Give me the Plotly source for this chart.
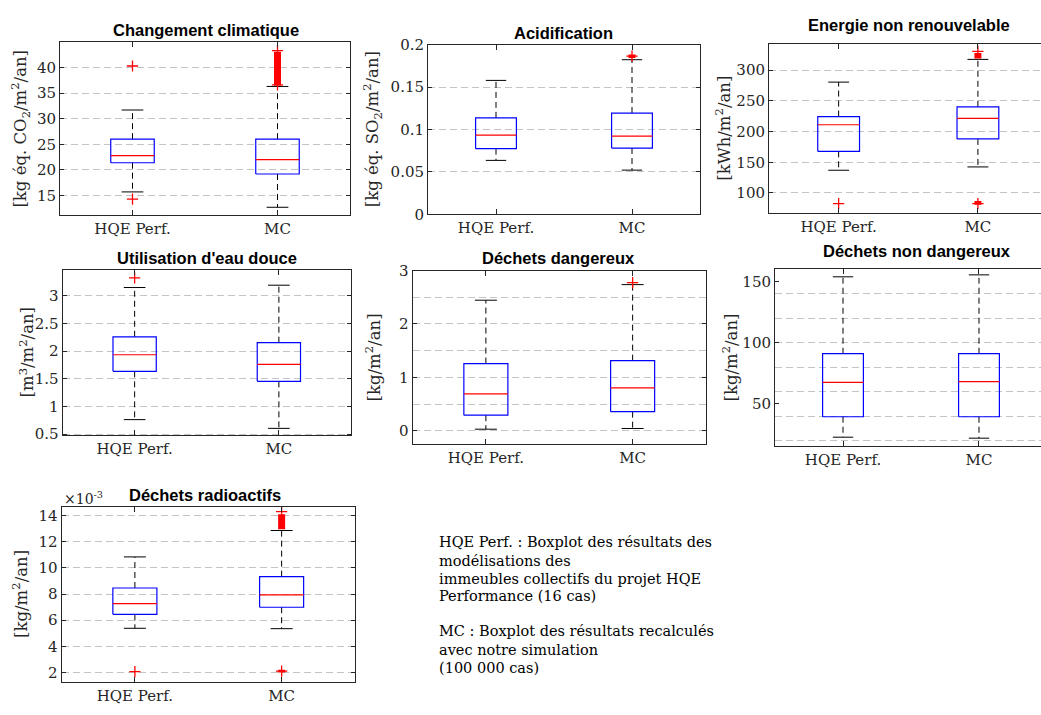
import plotly.graph_objects as go

# ---------------- data ----------------
titles = ["Changement climatique", "Acidification", "Energie non renouvelable",
          "Utilisation d'eau douce", "Déchets dangereux", "Déchets non dangereux",
          "Déchets radioactifs"]
ylabels = ["[kg éq. CO<sub>2</sub>/m<sup>2</sup>/an]",
           "[kg éq. SO<sub>2</sub>/m<sup>2</sup>/an]",
           "[kWh/m<sup>2</sup>/an]",
           "[m<sup>3</sup>/m<sup>2</sup>/an]",
           "[kg/m<sup>2</sup>/an]",
           "[kg/m<sup>2</sup>/an]",
           "[kg/m<sup>2</sup>/an]"]
categories = ["HQE Perf.", "MC"]

# box statistics per indicator (radioactifs expressed in 1e-3 kg)
hqe_low = [15.7, 0.0637, 137.0, 0.763, 0.03, 22.8, 5.38]
hqe_q1 = [21.4, 0.0775, 167.8, 1.634, 0.292, 39.5, 6.45]
hqe_med = [22.8, 0.0935, 211.1, 1.933, 0.693, 67.6, 7.27]
hqe_q3 = [26.0, 0.1138, 224.4, 2.257, 1.259, 91.0, 8.46]
hqe_high = [31.7, 0.158, 280.5, 3.146, 2.445, 153.8, 10.84]

mc_low = [12.7, 0.0522, 142.4, 0.605, 0.043, 22.0, 5.35]
mc_q1 = [19.2, 0.0782, 188.0, 1.453, 0.359, 39.5, 6.99]
mc_med = [22.0, 0.0924, 221.3, 1.758, 0.803, 68.2, 7.94]
mc_q3 = [26.0, 0.1195, 240.3, 2.151, 1.314, 91.0, 9.33]
mc_high = [36.3, 0.1824, 317.5, 3.188, 2.737, 155.4, 12.86]

hqe_outliers = [[40.3, 14.3], [], [82.5], [3.32], [], [], [2.07]]
mc_outliers = [[43.3, 36.6], [0.1866], [330.5, 82.5], [], [2.774], [], [14.3, 2.1]]
# ranges densely covered by MC outliers (100 000 cases)
mc_outlier_bands = [[(36.5, 43.1)], [(0.1845, 0.1885)], [(319.0, 328.0), (81.0, 87.0)],
                    [], [], [], [(12.95, 14.1), (2.0, 2.2)]]

y_ranges = [[11.25, 44.9], [-1e-7, 0.2000001], [67.8, 342.4], [0.48, 3.47],
            [-0.243, 3.0005], [15.6, 160.2], [1.30, 14.67]]
y_dticks = [5, 0.05, 50, 0.5, 1, 50, 2]
y_minor = [None, None, None, None, 0.5, 20, None]

note_lines = ["HQE Perf. : Boxplot des résultats des", "modélisations des",
              "immeubles collectifs du projet HQE", "Performance (16 cas)",
              "MC : Boxplot des résultats recalculés", "avec notre simulation",
              "(100 000 cas)"]

# ---------------- layout geometry (pixels) ----------------
W, H = 1041, 715
axes_px = [(60, 350, 34.3, 211), (428, 700, 36.7, 210.7), (769, 1041, 36, 209),
           (62.5, 351, 267.3, 437.3), (412.5, 706, 268.3, 446), (775, 1041, 266.7, 448.3),
           (61.5, 355, 510.7, 690)]
x_ranges = [[0.5, 2.5], [0.5, 2.5], [0.5, 2.453], [0.5, 2.5], [0.5, 2.5], [0.5, 2.456], [0.5, 2.5]]
clipped_right = [False, False, True, False, False, True, False]
title_px = [(205.8, 21.7), (563.3, 24.3), (908.5, 16.7), (207.2, 255), (558.8, 255.7),
            (917.2, 248.3), (204.8, 498.3)]
ylabel_x = [20, 371.7, 723.3, 27, 373.3, 730, 20.7]
note_y = [546.7, 566.7, 585, 602.3, 638.3, 657.7, 675.7]

SERIF = "DejaVu Serif"
SANS = "Liberation Sans, Arial"
AX = "#262626"
GRID = "#c4c4c4"
BW = 0.15   # half box width
CW = 0.075  # half cap width

fig = go.Figure()
layout = dict(width=W, height=H, margin=dict(l=0, r=0, t=0, b=0), autosize=False,
              paper_bgcolor="white", plot_bgcolor="white", showlegend=False,
              annotations=[])


def px2x(p):
    return p / W


def px2y(p):
    return 1 - p / H


for i in range(7):
    n = i + 1
    sfx = "" if n == 1 else str(n)
    xa, ya = "x" + sfx, "y" + sfx
    stats = [
        (1, hqe_low[i], hqe_q1[i], hqe_med[i], hqe_q3[i], hqe_high[i], hqe_outliers[i], []),
        (2, mc_low[i], mc_q1[i], mc_med[i], mc_q3[i], mc_high[i], mc_outliers[i], mc_outlier_bands[i]),
    ]
    for c, lo, q1, med, q3, hi, outs, bands in stats:
        # whiskers (dashed)
        fig.add_trace(go.Scatter(x=[c, c, None, c, c], y=[q3, hi, None, q1, lo], mode="lines",
                                 line=dict(color="black", width=1, dash="6px,4px"),
                                 xaxis=xa, yaxis=ya, hoverinfo="skip"))
        # caps
        fig.add_trace(go.Scatter(x=[c - CW, c + CW, None, c - CW, c + CW], y=[hi, hi, None, lo, lo],
                                 mode="lines", line=dict(color="black", width=1),
                                 xaxis=xa, yaxis=ya, hoverinfo="skip"))
        # box
        fig.add_trace(go.Scatter(x=[c - BW, c + BW, c + BW, c - BW, c - BW], y=[q1, q1, q3, q3, q1],
                                 mode="lines", line=dict(color="#0000ff", width=1.2),
                                 xaxis=xa, yaxis=ya, hoverinfo="skip"))
        # median
        fig.add_trace(go.Scatter(x=[c - BW, c + BW], y=[med, med], mode="lines",
                                 line=dict(color="#ff0000", width=1.2),
                                 xaxis=xa, yaxis=ya, hoverinfo="skip"))
        # dense outlier bands
        for blo, bhi in bands:
            fig.add_trace(go.Scatter(x=[c, c], y=[blo, bhi], mode="lines",
                                     line=dict(color="#ff0000", width=7),
                                     xaxis=xa, yaxis=ya, hoverinfo="skip"))
        # outliers
        if outs:
            fig.add_trace(go.Scatter(x=[c] * len(outs), y=outs, mode="markers",
                                     marker=dict(symbol="cross-thin", size=8,
                                                 line=dict(color="#ff0000", width=1.3)),
                                     xaxis=xa, yaxis=ya, hoverinfo="skip"))

    x0, x1, y0, y1 = axes_px[i]
    layout["xaxis" + sfx] = dict(
        domain=[px2x(x0), px2x(x1)], anchor=ya, range=x_ranges[i],
        tickmode="array", tickvals=[1, 2], ticktext=categories,
        showline=True, linecolor=AX, linewidth=1, mirror="ticks",
        ticks="inside", ticklen=5, tickcolor=AX, showgrid=False, zeroline=False,
        tickfont=dict(family=SERIF, size=15, color=AX), ticklabelstandoff=0,
    )
    yd = dict(
        domain=[px2y(y1), px2y(y0)], anchor=xa, range=y_ranges[i],
        tickmode="linear", tick0=0, dtick=y_dticks[i],
        showline=True, linecolor=AX, linewidth=1,
        mirror=False if clipped_right[i] else "ticks",
        ticks="inside", ticklen=4, tickcolor=AX, zeroline=False,
        showgrid=True, gridcolor=GRID, gridwidth=1, griddash="7px,4px",
        tickfont=dict(family=SERIF, size=15, color=AX),
    )
    if y_minor[i] is not None:
        yd["showgrid"] = (i == 4)
        yd["minor"] = dict(dtick=y_minor[i], tick0=0, showgrid=True, gridcolor=GRID,
                           gridwidth=1, griddash="7px,4px", ticks="outside", ticklen=0)
    layout["yaxis" + sfx] = yd

    tx, ty = title_px[i]
    layout["annotations"].append(dict(
        text="<b>" + titles[i] + "</b>", x=px2x(tx), y=px2y(ty), xref="paper", yref="paper",
        xanchor="center", yanchor="middle", showarrow=False,
        font=dict(family=SANS, size=16.5, color="black")))
    layout["annotations"].append(dict(
        text=ylabels[i], x=px2x(ylabel_x[i]), y=px2y((y0 + y1) / 2), xref="paper", yref="paper",
        xanchor="center", yanchor="middle", showarrow=False, textangle=-90,
        font=dict(family=SERIF, size=16.5, color=AX)))

# x10^-3 exponent label
layout["annotations"].append(dict(
    text="×10<sup>-3</sup>", x=px2x(62), y=px2y(501.5), xref="paper", yref="paper",
    xanchor="left", yanchor="middle", showarrow=False,
    font=dict(family=SERIF, size=14, color=AX)))

# note text
for line, yy in zip(note_lines, note_y):
    layout["annotations"].append(dict(
        text=line, x=px2x(437), y=px2y(yy), xref="paper", yref="paper",
        xanchor="left", yanchor="middle", showarrow=False,
        font=dict(family=SERIF, size=14.5, color="black")))

fig.update_layout(**layout)
fig.write_html("out.html", config={"displayModeBar": False},
               post_script="document.body.style.margin='0px';")
